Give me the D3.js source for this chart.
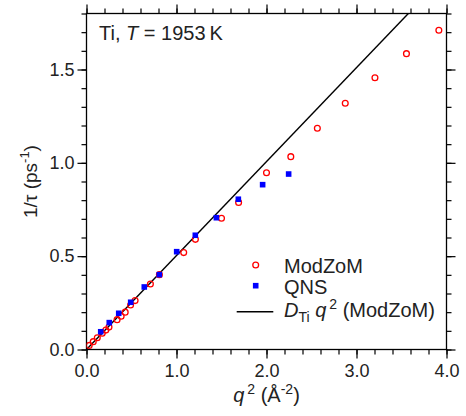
<!DOCTYPE html>
<html>
<head>
<meta charset="utf-8">
<script src="https://cdn.jsdelivr.net/npm/d3@7"></script>
<style>
  body { margin: 0; background: #fff; }
  svg { font-family: "Liberation Sans", Arial, Helvetica, sans-serif; }
  .axis path { display: none; }
  .axis line { stroke: #000; stroke-width: 1.2; }
  .axis text { font-size: 18px; fill: #222; }
</style>
</head>
<body>
<svg width="466" height="416"></svg>
<script>
// ModZoM points (q^2 in 1/A^2, 1/tau in 1/ps)
var modzomQ2   = [0.03, 0.075, 0.12, 0.175, 0.215, 0.25, 0.34, 0.385, 0.43, 0.49, 0.54, 0.71, 0.81, 1.08, 1.21, 1.50, 1.69, 2.00, 2.27, 2.565, 2.875, 3.205, 3.555, 3.915];
var modzomRate = [0.022, 0.042, 0.063, 0.087, 0.104, 0.12, 0.16, 0.178, 0.2, 0.238, 0.262, 0.351, 0.401, 0.519, 0.59, 0.703, 0.788, 0.947, 1.033, 1.185, 1.319, 1.456, 1.585, 1.710];

// QNS points
var qnsQ2   = [0.158, 0.253, 0.358, 0.491, 0.642, 0.809, 1.002, 1.209, 1.443, 1.687, 1.957, 2.246];
var qnsRate = [0.095, 0.144, 0.194, 0.253, 0.335, 0.401, 0.524, 0.612, 0.706, 0.805, 0.883, 0.940];

// D_Ti q^2 line, end points
var fitQ2   = [0, 3.576];
var fitRate = [0, 1.8];

var xMajor = [0, 1, 2, 3, 4];
var xMinor = d3.range(0, 4.01, 0.2);
var yMajor = [0, 0.5, 1.0, 1.5];
var yMinor = d3.range(0, 1.81, 0.1);

function drawChart() {
var svg = d3.select("svg");
var pLeft = 86.5, pRight = 446.5, pTop = 13.5, pBottom = 349.5;

var x = d3.scaleLinear().domain([0, 4]).range([pLeft, pRight]);
var y = d3.scaleLinear().domain([0, 1.8]).range([pBottom, pTop]);

//////////// AXES ////////////
function addAxis(axis, tx, ty) {
  svg.append("g").attr("class", "axis")
    .attr("transform", "translate(" + tx + "," + ty + ")")
    .call(axis);
}
var noLabel = function() { return ""; };

// minor ticks
addAxis(d3.axisBottom(x).tickValues(xMinor).tickSize(5).tickFormat(noLabel), 0, pBottom);
addAxis(d3.axisTop(x).tickValues(xMinor).tickSize(5).tickFormat(noLabel), 0, pTop);
addAxis(d3.axisLeft(y).tickValues(yMinor).tickSize(5).tickFormat(noLabel), pLeft, 0);
addAxis(d3.axisRight(y).tickValues(yMinor).tickSize(5).tickFormat(noLabel), pRight, 0);

// major ticks
addAxis(d3.axisBottom(x).tickValues(xMajor).tickSize(9).tickPadding(6).tickFormat(d3.format(".1f")), 0, pBottom);
addAxis(d3.axisTop(x).tickValues(xMajor).tickSize(9).tickFormat(noLabel), 0, pTop);
addAxis(d3.axisLeft(y).tickValues(yMajor).tickSize(9).tickPadding(3).tickFormat(d3.format(".1f")), pLeft, 0);
addAxis(d3.axisRight(y).tickValues(yMajor).tickSize(9).tickFormat(noLabel), pRight, 0);

// frame
svg.append("rect")
  .attr("x", pLeft).attr("y", pTop)
  .attr("width", pRight - pLeft).attr("height", pBottom - pTop)
  .attr("fill", "none").attr("stroke", "#000").attr("stroke-width", 1.3);

svg.append("clipPath").attr("id", "plotclip")
  .append("rect")
  .attr("x", pLeft).attr("y", pTop)
  .attr("width", pRight - pLeft).attr("height", pBottom - pTop);

//////////// DATA ////////////
var plot = svg.append("g").attr("clip-path", "url(#plotclip)");

plot.append("path")
  .datum(d3.zip(fitQ2, fitRate))
  .attr("d", d3.line().x(function(d) { return x(d[0]); }).y(function(d) { return y(d[1]); }))
  .attr("fill", "none").attr("stroke", "#000").attr("stroke-width", 1.4);

plot.selectAll(".modzom")
  .data(d3.zip(modzomQ2, modzomRate))
  .enter().append("circle")
  .attr("class", "modzom")
  .attr("cx", function(d) { return x(d[0]); })
  .attr("cy", function(d) { return y(d[1]); })
  .attr("r", 2.9)
  .attr("fill", "none").attr("stroke", "#ff0000").attr("stroke-width", 1.3);

plot.selectAll(".qns")
  .data(d3.zip(qnsQ2, qnsRate))
  .enter().append("rect")
  .attr("class", "qns")
  .attr("x", function(d) { return x(d[0]) - 2.8; })
  .attr("y", function(d) { return y(d[1]) - 2.8; })
  .attr("width", 5.6).attr("height", 5.6)
  .attr("fill", "#0000ff");

//////////// TEXT ////////////
// title
var title = svg.append("text").attr("x", 99).attr("y", 40)
  .attr("font-size", 20).attr("fill", "#222");
title.append("tspan").text("Ti,  ");
title.append("tspan").attr("font-style", "italic").text("T");
title.append("tspan").text(" = 1953\u2009K");

// x axis title
var xt = svg.append("text").attr("x", (pLeft + pRight) / 2).attr("y", 402)
  .attr("text-anchor", "middle").attr("font-size", 20).attr("fill", "#222");
xt.append("tspan").attr("font-style", "italic").text("q");
xt.append("tspan").attr("font-size", 14).attr("dx", 3).attr("dy", -8).text("2");
xt.append("tspan").attr("dy", 8).text(" (\u00c5");
xt.append("tspan").attr("font-size", 14).attr("dy", -8).text("-2");
xt.append("tspan").attr("dy", 8).text(")");

// y axis title
var yt = svg.append("text")
  .attr("transform", "translate(37," + ((pTop + pBottom) / 2) + ") rotate(-90)")
  .attr("text-anchor", "middle").attr("font-size", 19).attr("fill", "#222");
yt.append("tspan").text("1/\u03c4 (ps");
yt.append("tspan").attr("font-size", 13).attr("dy", -8).text("-1");
yt.append("tspan").attr("dy", 8).text(")");

// legend
var lgX = 255.7, lgText = 284;
svg.append("circle").attr("cx", lgX).attr("cy", 265).attr("r", 2.9)
  .attr("fill", "none").attr("stroke", "#ff0000").attr("stroke-width", 1.3);
svg.append("text").attr("x", lgText).attr("y", 273).attr("font-size", 20).attr("fill", "#222").text("ModZoM");

svg.append("rect").attr("x", lgX - 2.8).attr("y", 285.7 - 2.8).attr("width", 5.6).attr("height", 5.6)
  .attr("fill", "#0000ff");
svg.append("text").attr("x", lgText).attr("y", 294).attr("font-size", 20).attr("fill", "#222").text("QNS");

svg.append("line").attr("x1", 236.7).attr("x2", 273.3).attr("y1", 311.7).attr("y2", 311.7)
  .attr("stroke", "#000").attr("stroke-width", 1.4);
var lt = svg.append("text").attr("x", lgText).attr("y", 317).attr("font-size", 20).attr("fill", "#222");
lt.append("tspan").attr("font-style", "italic").text("D");
lt.append("tspan").attr("font-size", 14).attr("dy", 5).text("Ti");
lt.append("tspan").attr("dy", -5).attr("font-style", "italic").text(" q");
lt.append("tspan").attr("font-size", 14).attr("dx", 3).attr("dy", -8).text("2");
lt.append("tspan").attr("dy", 8).text(" (ModZoM)");
}

drawChart();
</script>
</body>
</html>
